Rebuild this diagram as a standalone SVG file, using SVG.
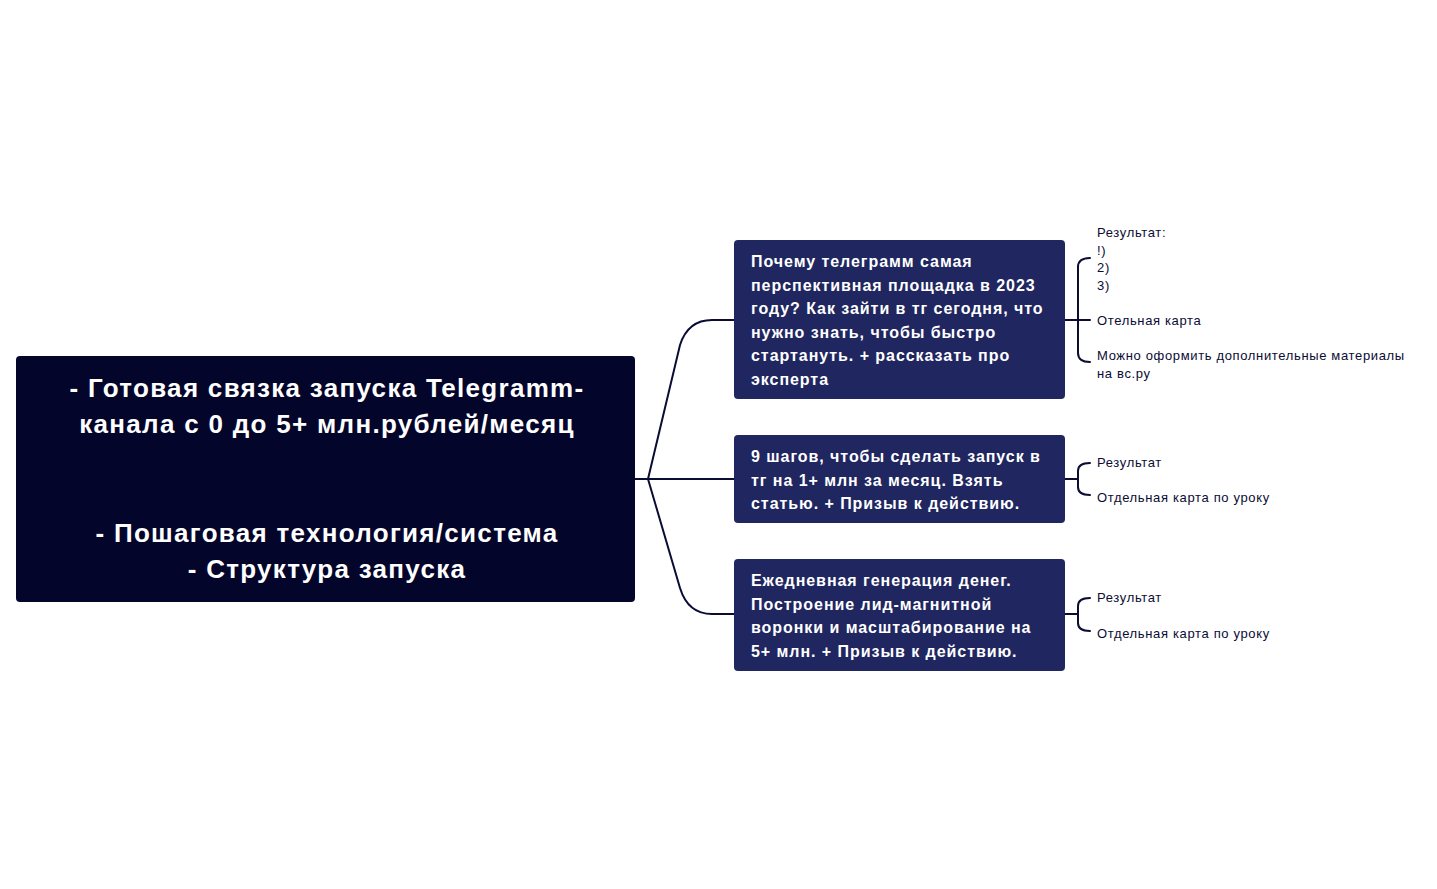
<svg xmlns="http://www.w3.org/2000/svg" width="1437" height="889" viewBox="0 0 1437 889">
<style>
.root{fill:#03052a}
.node{fill:#20265f}
.conn{fill:none;stroke:#0a0c33;stroke-width:2;stroke-linecap:round}
.rt{font-family:"Liberation Sans",Arial,sans-serif;font-weight:bold;font-size:26px;letter-spacing:1.3px;fill:#ffffff;text-anchor:middle}
.nt{font-family:"Liberation Sans",Arial,sans-serif;font-weight:bold;font-size:16px;letter-spacing:0.95px;fill:#ffffff}
.lt{font-family:"Liberation Sans",Arial,sans-serif;font-size:13px;letter-spacing:0.65px;fill:#0a0c33}
</style>
<rect width="1437" height="889" fill="#ffffff"/>
<g id="connectors">
<path class="conn" d="M635 479 L648 479 L680 345 Q688 320 712 320 L734 320"/>
<path class="conn" d="M648 479 L734 479"/>
<path class="conn" d="M648 479 L680 588 Q688 614 712 614 L734 614"/>
<path class="conn" d="M1065 320 L1090 320 M1090 258 Q1078 258 1078 267 L1078 353 Q1078 362 1090 362"/>
<path class="conn" d="M1065 479 L1078 479 M1090 463 Q1078 463 1078 471 L1078 487 Q1078 495 1090 495"/>
<path class="conn" d="M1065 614 L1078 614 M1090 598 Q1078 598 1078 606 L1078 623 Q1078 631 1090 631"/>
</g>
<g id="root">
<rect class="root" x="16" y="356" width="619" height="246" rx="4"/>
<text class="rt" x="327" y="397">- Готовая связка запуска Telegramm-</text>
<text class="rt" x="327" y="433">канала с 0 до 5+ млн.рублей/месяц</text>
<text class="rt" x="327" y="542">- Пошаговая технология/система</text>
<text class="rt" x="327" y="578">- Структура запуска</text>
</g>
<g id="node1">
<rect class="node" x="734" y="240" width="331" height="159" rx="4"/>
<text class="nt" x="751" y="267">Почему телеграмм самая</text>
<text class="nt" x="751" y="290.5">перспективная площадка в 2023</text>
<text class="nt" x="751" y="314">году? Как зайти в тг сегодня, что</text>
<text class="nt" x="751" y="337.5">нужно знать, чтобы быстро</text>
<text class="nt" x="751" y="361">стартануть. + рассказать про</text>
<text class="nt" x="751" y="384.5">эксперта</text>
</g>
<g id="node2">
<rect class="node" x="734" y="435" width="331" height="88" rx="4"/>
<text class="nt" x="751" y="462">9 шагов, чтобы сделать запуск в</text>
<text class="nt" x="751" y="485.5">тг на 1+ млн за месяц. Взять</text>
<text class="nt" x="751" y="509">статью. + Призыв к действию.</text>
</g>
<g id="node3">
<rect class="node" x="734" y="559" width="331" height="112" rx="4"/>
<text class="nt" x="751" y="586">Ежедневная генерация денег.</text>
<text class="nt" x="751" y="609.5">Построение лид-магнитной</text>
<text class="nt" x="751" y="633">воронки и масштабирование на</text>
<text class="nt" x="751" y="656.5">5+ млн. + Призыв к действию.</text>
</g>
<g id="leaf1">
<text class="lt" x="1097" y="237">Результат:</text>
<text class="lt" x="1097" y="254.5">!)</text>
<text class="lt" x="1097" y="272">2)</text>
<text class="lt" x="1097" y="290">3)</text>
<text class="lt" x="1097" y="325">Отельная карта</text>
<text class="lt" x="1097" y="360">Можно оформить дополнительные материалы</text>
<text class="lt" x="1097" y="378">на вс.ру</text>
</g>
<g id="leaf2">
<text class="lt" x="1097" y="467">Результат</text>
<text class="lt" x="1097" y="502">Отдельная карта по уроку</text>
</g>
<g id="leaf3">
<text class="lt" x="1097" y="602">Результат</text>
<text class="lt" x="1097" y="638">Отдельная карта по уроку</text>
</g>
</svg>
